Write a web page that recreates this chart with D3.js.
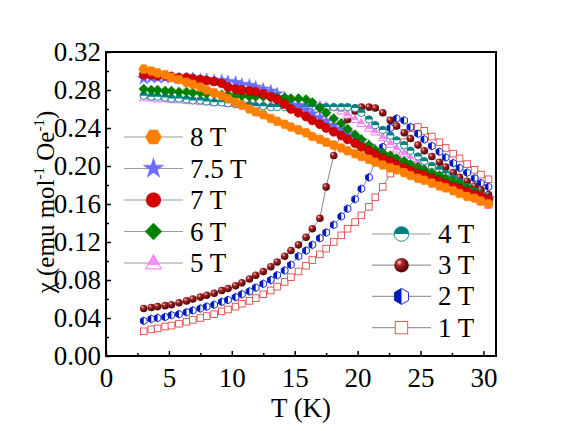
<!DOCTYPE html>
<html>
<head>
<meta charset="utf-8">
<script src="https://cdn.jsdelivr.net/npm/d3@7"></script>
<style>
  body { margin: 0; background: #fff; }
</style>
</head>
<body>
<div id="chart"></div>
<script>
// ---- data ----
const temps = [3.0, 3.6, 4.1, 4.7, 5.2, 5.8, 6.4, 6.9, 7.5, 8.0,
  8.6, 9.2, 9.7, 10.3, 10.8, 11.4, 11.9, 12.5, 13.1, 13.6,
  14.2, 14.7, 15.3, 15.9, 16.4, 17.0, 17.5, 18.1, 18.7, 19.2,
  19.8, 20.3, 20.9, 21.4, 22.0, 22.6, 23.1, 23.7, 24.2, 24.8,
  25.3, 25.9, 26.5, 27.0, 27.6, 28.1, 28.7, 29.3, 29.8, 30.4];

const chi8T = [.302, .300, .298, .296, .293, .291, .288, .286, .283, .280,
  .277, .274, .271, .267, .264, .260, .257, .254, .250, .247,
  .244, .241, .238, .235, .231, .228, .225, .222, .219, .216,
  .213, .210, .207, .204, .201, .198, .196, .193, .190, .187,
  .185, .182, .179, .177, .174, .171, .168, .166, .163, .160];

const chi75T = [.292, .293, .293, .293, .293, .292, .292, .292, .291, .291,
  .290, .290, .289, .288, .286, .285, .283, .281, .279, .276,
  .272, .268, .264, .259, .255, .251, .247, .243, .239, .235,
  .230, .226, .221, .216, .211, .207, .203, .200, .197, .194,
  .191, .188, .185, .183, .180, .177, .174, .172, .169, .166];

const chi7T = [.296, .296, .295, .295, .294, .293, .293, .292, .291, .290,
  .289, .287, .283, .281, .280, .279, .278, .276, .273, .270,
  .265, .260, .256, .252, .248, .244, .240, .236, .232, .228,
  .224, .220, .216, .212, .208, .205, .201, .198, .195, .192,
  .190, .187, .184, .181, .178, .176, .173, .170, .168, .165];

const chi6T = [.281, .280, .280, .279, .279, .278, .278, .277, .277, .276,
  .276, .275, .275, .274, .274, .273, .273, .273, .272, .272,
  .272, .271, .271, .270, .267, .261, .256, .250, .245, .239,
  .233, .228, .222, .217, .214, .211, .208, .205, .202, .199,
  .196, .193, .190, .187, .184, .181, .177, .173, .170, .166];

const chi5T = [.272, .272, .271, .271, .270, .270, .269, .269, .268, .268,
  .267, .267, .266, .266, .265, .265, .265, .264, .264, .264,
  .264, .264, .264, .264, .264, .264, .263, .262, .258, .254,
  .249, .245, .240, .236, .230, .223, .218, .213, .208, .203,
  .198, .193, .189, .185, .180, .176, .171, .167, .163, .159];

const chi4T = [.274, .273, .273, .272, .271, .271, .270, .269, .269, .268,
  .267, .267, .266, .265, .265, .264, .263, .263, .262, .262,
  .262, .262, .262, .262, .262, .262, .262, .262, .262, .262,
  .261, .256, .249, .243, .238, .232, .227, .222, .216, .210,
  .205, .200, .196, .192, .187, .183, .178, .173, .168, .163];

const chi3T = [.050, .051, .052, .053, .054, .056, .058, .060, .062, .064,
  .066, .069, .071, .074, .077, .081, .085, .089, .094, .099,
  .105, .111, .117, .125, .134, .145, .178, .211, .236, .249,
  .258, .262, .262, .261, .256, .248, .242, .235, .229, .222,
  .216, .210, .204, .199, .193, .188, .184, .179, .175, .170];

const chi2T = [.037, .039, .040, .041, .043, .044, .046, .048, .050, .052,
  .054, .057, .059, .062, .065, .068, .072, .076, .080, .085,
  .090, .096, .105, .111, .117, .124, .130, .138, .147, .155,
  .165, .176, .188, .205, .220, .240, .250, .248, .241, .234,
  .228, .221, .215, .209, .203, .198, .193, .187, .182, .178];

const chi1T = [.026, .028, .029, .031, .032, .034, .036, .038, .040, .042,
  .044, .047, .049, .052, .055, .058, .061, .065, .069, .073,
  .078, .083, .089, .095, .101, .107, .113, .120, .127, .134,
  .141, .148, .157, .167, .178, .192, .206, .225, .240, .241,
  .237, .231, .225, .219, .213, .208, .202, .196, .191, .186];

const fieldLabels = ["8 T", "7.5 T", "7 T", "6 T", "5 T", "4 T", "3 T", "2 T", "1 T"];
const xTicks = [0, 5, 10, 15, 20, 25, 30];
const yTicks = [0, 0.04, 0.08, 0.12, 0.16, 0.20, 0.24, 0.28, 0.32];

// series, marker style per field
const series = [
  { label: fieldLabels[0], values: chi8T, marker: "hexFill", color: "#ff8000", r: 4.5 },
  { label: fieldLabels[1], values: chi75T, marker: "star", color: "#6b6bff", r: 4.5 },
  { label: fieldLabels[2], values: chi7T, marker: "circle", color: "#d40000", r: 4.5 },
  { label: fieldLabels[3], values: chi6T, marker: "diamond", color: "#008000", r: 4.3 },
  { label: fieldLabels[4], values: chi5T, marker: "triangle", color: "#ff66ff", r: 4.0 },
  { label: fieldLabels[5], values: chi4T, marker: "halfCircle", color: "#008080", r: 3.7 },
  { label: fieldLabels[6], values: chi3T, marker: "sphere", color: "#800000", r: 3.8 },
  { label: fieldLabels[7], values: chi2T, marker: "halfHex", color: "#0018c0", r: 3.5 },
  { label: fieldLabels[8], values: chi1T, marker: "square", color: "#e04848", r: 3.9 }
];
// draw order (last on top)
const drawOrder = [8, 7, 6, 4, 5, 1, 3, 2, 0];

const FONT = "Liberation Serif";

// ---- svg setup ----
const W = 581, H = 431;
const margin = { top: 52, right: 85, bottom: 75, left: 106 },
      width = W - margin.left - margin.right,
      height = H - margin.top - margin.bottom;

const svg = d3.select("#chart").append("svg")
    .attr("width", W)
    .attr("height", H)
    .attr("font-family", FONT);

const defs = svg.append("defs");
const grad = defs.append("radialGradient")
    .attr("id", "ball").attr("cx", "35%").attr("cy", "32%").attr("r", "70%");
grad.append("stop").attr("offset", "0%").attr("stop-color", "#f4d0d0");
grad.append("stop").attr("offset", "30%").attr("stop-color", "#a82828");
grad.append("stop").attr("offset", "100%").attr("stop-color", "#4a0000");

const triGrad = defs.append("linearGradient")
    .attr("id", "triFill").attr("x1", 0).attr("y1", 0).attr("x2", 0).attr("y2", 1);
triGrad.append("stop").attr("offset", "0%").attr("stop-color", "#ff8cff");
triGrad.append("stop").attr("offset", "72%").attr("stop-color", "#ff8cff");
triGrad.append("stop").attr("offset", "72%").attr("stop-color", "#ffffff");
triGrad.append("stop").attr("offset", "100%").attr("stop-color", "#ffffff");

const g = svg.append("g")
    .attr("transform", `translate(${margin.left},${margin.top})`);

const x = d3.scaleLinear().domain([0, 31]).range([0, width]);
const y = d3.scaleLinear().domain([0, 0.32]).range([height, 0]);

// ---- marker drawing ----
function hexPoints(r, pointyTop) {
  const start = pointyTop ? -90 : 0;
  return d3.range(6).map(i => {
    const a = (start + i * 60) * Math.PI / 180;
    return [r * Math.cos(a), r * Math.sin(a)];
  });
}

function drawMarker(sel, type, r, color) {
  const line = d3.line();
  if (type === "hexFill") {
    sel.append("path").attr("d", line(hexPoints(r * 1.1, false)) + "Z")
      .attr("fill", color).attr("stroke", color).attr("stroke-width", 0.6);
  } else if (type === "star") {
    sel.append("path").attr("d", d3.symbol(d3.symbolStar, r * r * 2.4)())
      .attr("fill", color).attr("stroke", color).attr("stroke-width", 0.5);
  } else if (type === "circle") {
    sel.append("circle").attr("r", r)
      .attr("fill", color).attr("stroke", "#b00000").attr("stroke-width", 0.6);
  } else if (type === "diamond") {
    const d = r * 1.15;
    sel.append("path").attr("d", `M0,${-d}L${d},0L0,${d}L${-d},0Z`)
      .attr("fill", color).attr("stroke", color).attr("stroke-width", 0.5);
  } else if (type === "triangle") {
    const t = r * 1.15;
    sel.append("path").attr("d", `M0,${-t}L${t * 0.95},${t * 0.7}L${-t * 0.95},${t * 0.7}Z`)
      .attr("fill", "url(#triFill)").attr("stroke", color).attr("stroke-width", 0.9);
  } else if (type === "halfCircle") {
    sel.append("circle").attr("r", r).attr("fill", "#fff");
    sel.append("path").attr("d", `M${-r},0A${r},${r} 0 0 1 ${r},0Z`).attr("fill", color);
    sel.append("circle").attr("r", r).attr("fill", "none")
      .attr("stroke", color).attr("stroke-width", 0.9);
  } else if (type === "sphere") {
    sel.append("circle").attr("r", r).attr("fill", "url(#ball)");
  } else if (type === "halfHex") {
    const pts = hexPoints(r * 1.1, true);
    sel.append("path").attr("d", line(pts) + "Z").attr("fill", "#fff");
    sel.append("path").attr("d", line([pts[0], pts[3], pts[4], pts[5]]) + "Z")
      .attr("fill", color);
    sel.append("path").attr("d", line(pts) + "Z").attr("fill", "none")
      .attr("stroke", color).attr("stroke-width", 0.9);
  } else if (type === "square") {
    const s = r * 0.85;
    sel.append("rect").attr("x", -s).attr("y", -s).attr("width", 2 * s).attr("height", 2 * s)
      .attr("fill", "#fff").attr("stroke", color).attr("stroke-width", 0.9);
  }
}

// ---- data series ----
drawOrder.forEach(i => {
  const s = series[i];
  const pts = temps.map((t, k) => ({ t: t, v: s.values[k] }));
  const sg = g.append("g").attr("class", "series");
  sg.append("path")
    .datum(pts)
    .attr("fill", "none")
    .attr("stroke", "#555")
    .attr("stroke-width", 0.7)
    .attr("d", d3.line().x(d => x(d.t)).y(d => y(d.v)));
  sg.selectAll("g.pt")
    .data(pts)
    .enter()
    .append("g")
    .attr("class", "pt")
    .attr("transform", d => `translate(${x(d.t)},${y(d.v)})`)
    .each(function() { drawMarker(d3.select(this), s.marker, s.r, s.color); });
});

// ---- axes ----
const xAxis = g.append("g")
    .attr("transform", `translate(0,${height})`)
    .call(d3.axisBottom(x).tickValues(xTicks).tickSizeInner(-5).tickSizeOuter(0).tickPadding(12));
const xMinor = g.append("g")
    .attr("transform", `translate(0,${height})`)
    .call(d3.axisBottom(x).tickValues(d3.range(2.5, 31, 5)).tickSizeInner(-3).tickSizeOuter(0).tickFormat(""));

const yAxis = g.append("g")
    .call(d3.axisLeft(y).tickValues(yTicks).tickSizeInner(-5).tickSizeOuter(0).tickPadding(5)
      .tickFormat(d3.format(".2f")));
const yMinor = g.append("g")
    .call(d3.axisLeft(y).tickValues(d3.range(0.02, 0.32, 0.04)).tickSizeInner(-3).tickSizeOuter(0).tickFormat(""));

[xAxis, xMinor, yAxis, yMinor].forEach(a => {
  a.attr("font-family", FONT).attr("font-size", 27);
  a.select(".domain").remove();
  a.selectAll(".tick line").attr("stroke", "#000").attr("stroke-width", 1.5);
  a.selectAll(".tick text").attr("fill", "#000");
});

// frame
g.append("rect")
    .attr("width", width).attr("height", height)
    .attr("fill", "none").attr("stroke", "#000").attr("stroke-width", 2);

// ---- legends ----
function legend(items, x1, x2, textX, y0, dy) {
  items.forEach((i, k) => {
    const s = series[i];
    const yy = y0 + k * dy;
    svg.append("line").attr("x1", x1).attr("x2", x2).attr("y1", yy).attr("y2", yy)
      .attr("stroke", "#999").attr("stroke-width", 1.2);
    const mg = svg.append("g").attr("transform", `translate(${(x1 + x2) / 2},${yy})`);
    drawMarker(mg, s.marker, 7.3, s.color);
    svg.append("text").attr("x", textX).attr("y", yy + 9)
      .attr("font-family", FONT).attr("font-size", 27).text(s.label);
  });
}
legend([0, 1, 2, 3, 4], 124, 183, 190, 137, 31.5);
legend([5, 6, 7, 8], 372, 431, 438, 234, 31.2);

// ---- axis titles ----
svg.append("text")
    .attr("text-anchor", "middle")
    .attr("x", margin.left + width / 2)
    .attr("y", 417)
    .attr("font-family", FONT).attr("font-size", 27)
    .text("T (K)");

const yt = svg.append("text")
    .attr("text-anchor", "middle")
    .attr("transform", `translate(54,${margin.top + height / 2 - 2}) rotate(-90)`)
    .attr("font-family", FONT).attr("font-size", 25);
yt.append("tspan").text("\u03c7 (emu mol");
yt.append("tspan").attr("dy", -10).attr("font-size", 15).text("-1");
yt.append("tspan").attr("dy", 10).text(" Oe");
yt.append("tspan").attr("dy", -10).attr("font-size", 15).text("-1");
yt.append("tspan").attr("dy", 10).text(")");
</script>
</body>
</html>
